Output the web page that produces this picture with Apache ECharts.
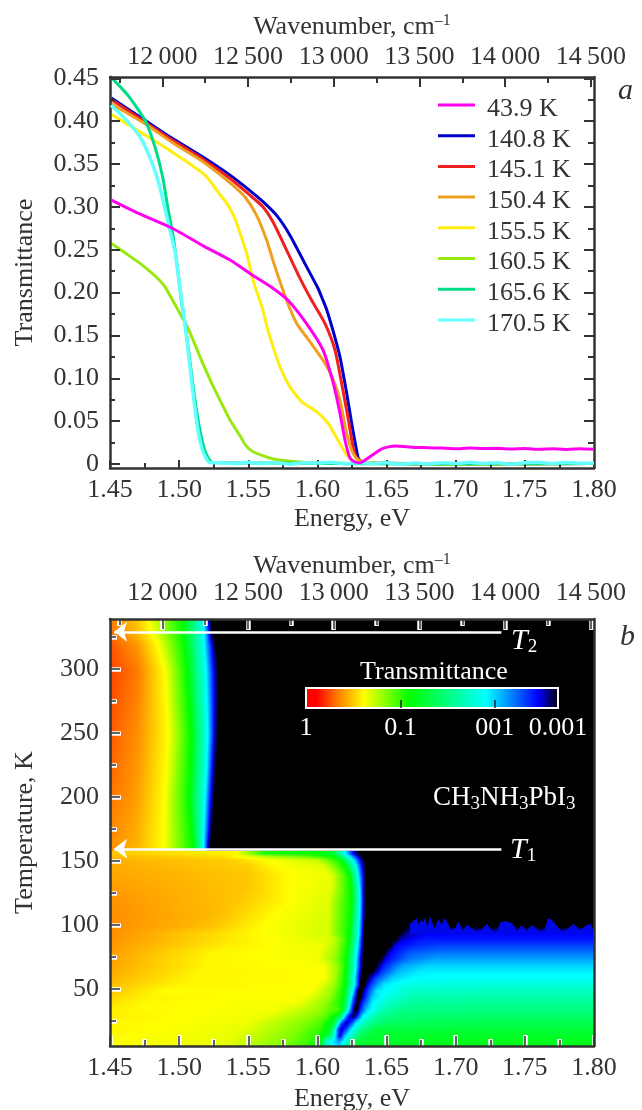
<!DOCTYPE html>
<html><head><meta charset="utf-8">
<style>html,body{margin:0;padding:0;background:#fff}#c{width:642px;height:1110px}</style>
<script src="https://cdn.jsdelivr.net/npm/echarts@6/dist/echarts.min.js"></script>
</head><body><div id="c"></div>
<script>
const legendLabels = ['43.9 K','140.8 K','145.1 K','150.4 K','155.5 K','160.5 K','165.6 K','170.5 K'];
const lineColors = ['#ff00ee','#0000cc','#f02020','#f0a020','#ffee10','#99e810','#00dd88','#66ffff'];
const energyTicks = [1.45,1.50,1.55,1.60,1.65,1.70,1.75,1.80];
const energyMinor = [1.475,1.525,1.575,1.625,1.675,1.725,1.775];
const waveTicks = [12000,12500,13000,13500,14000,14500];
const waveMinor = [11750,12250,12750,13250,13750,14250];
const transTicks = [0,0.05,0.10,0.15,0.20,0.25,0.30,0.35,0.40,0.45];
const transMinor = [0.025,0.075,0.125,0.175,0.225,0.275,0.325,0.375,0.425];
const tempTicks = [50,100,150,200,250,300];
const tempMinor = [25,75,125,175,225,275,325];

const curve439 = [[1.451,.3078],[1.4702,.2926],[1.495,.275],[1.5187,.2533],[1.5368,.238],[1.5534,.220],[1.5678,.205],[1.5787,.191],[1.592,.164],[1.604,.133],[1.6115,.094],[1.6163,.059],[1.6199,.028],[1.6235,.007],[1.6271,.0023],[1.6308,.0015],[1.638,.0085],[1.647,.018],[1.656,.021],[1.662,.0205],[1.668,.0195],[1.68,.019],[1.69,.0185],[1.70,.0178],[1.71,.0185],[1.72,.018],[1.73,.0182],[1.74,.0176],[1.75,.018],[1.76,.0172],[1.77,.0178],[1.78,.017],[1.79,.0178],[1.80,.0172]];
const curve1408 = [[1.451,.427],[1.4753,.401],[1.495,.380],[1.5163,.359],[1.5368,.337],[1.5512,.319],[1.5606,.306],[1.5705,.290],[1.5801,.267],[1.5922,.230],[1.6004,.205],[1.604,.191],[1.6067,.18],[1.6112,.156],[1.6163,.125],[1.6211,.083],[1.6247,.048],[1.6283,.016],[1.63,.005],[1.634,.002],[1.64,.001],[1.70,0],[1.80,.0005]];
const curve1451 = [[1.451,.425],[1.4753,.399],[1.495,.378],[1.516,.357],[1.5368,.333],[1.5512,.3136],[1.5606,.300],[1.5678,.2826],[1.5777,.2495],[1.5874,.2166],[1.5958,.191],[1.6054,.164],[1.6127,.133],[1.6175,.094],[1.622,.055],[1.6257,.02],[1.6279,.0085],[1.632,.003],[1.64,.001],[1.70,0],[1.80,.0005]];
const curve1504 = [[1.451,.42],[1.4753,.397],[1.495,.375],[1.516,.354],[1.5368,.328],[1.5476,.3115],[1.556,.29],[1.5633,.261],[1.5693,.23],[1.5777,.191],[1.585,.164],[1.5946,.1426],[1.6054,.1175],[1.6115,.098],[1.6163,.0746],[1.6211,.036],[1.6257,.0125],[1.63,.004],[1.64,.001],[1.70,0],[1.80,.0005]];
const curve1555 = [[1.451,.4077],[1.4702,.389],[1.495,.364],[1.5188,.337],[1.528,.3175],[1.5353,.302],[1.5404,.2865],[1.5425,.2766],[1.5488,.246],[1.5534,.2145],[1.5606,.1795],[1.5642,.156],[1.5729,.1134],[1.5801,.09],[1.5886,.0726],[1.5994,.061],[1.6076,.0478],[1.6148,.028],[1.6211,.0105],[1.6257,.004],[1.63,.002],[1.64,.001],[1.70,0],[1.80,.0005]];
const curve1605 = [[1.451,.2573],[1.4702,.2358],[1.4765,.228],[1.4838,.2175],[1.4898,.2067],[1.4992,.1795],[1.5064,.1585],[1.5151,.125],[1.5235,.0944],[1.5331,.063],[1.5368,.0513],[1.5404,.042],[1.544,.033],[1.548,.022],[1.5534,.0143],[1.5678,.0058],[1.585,.0027],[1.604,.001],[1.64,.0005],[1.70,0],[1.80,.0005]];
const curve1656 = [[1.45,.4525],[1.463,.430],[1.4753,.401],[1.4825,.370],[1.4883,.333],[1.4919,.298],[1.4955,.267],[1.4992,.224],[1.5018,.1875],[1.5042,.164],[1.507,.13],[1.511,.08],[1.515,.04],[1.519,.014],[1.524,.002],[1.56,.001],[1.70,0],[1.80,.0005]];
const curve1705 = [[1.4507,.4185],[1.4608,.403],[1.4717,.3815],[1.4801,.3525],[1.4862,.322],[1.4919,.2825],[1.497,.2475],[1.499,.224],[1.5035,.172],[1.5064,.133],[1.51,.083],[1.5136,.0396],[1.5172,.0143],[1.5223,.0015],[1.53,.0015],[1.54,.0005],[1.55,.002],[1.56,.0005],[1.57,.0015],[1.58,-.0002],[1.59,.0015],[1.60,.001],[1.61,.002],[1.62,.0002],[1.63,.0015],[1.64,.0005],[1.65,.0015],[1.66,-.0003],[1.67,.001],[1.68,.0002],[1.69,.0015],[1.70,.0005],[1.71,.002],[1.72,.0005],[1.73,.0015],[1.74,-.0002],[1.75,.0015],[1.76,.002],[1.77,.0005],[1.78,.0018],[1.79,.0008],[1.80,.0012]];
const curves = [curve439,curve1408,curve1451,curve1504,curve1555,curve1605,curve1656,curve1705];
const curveOrder = [1,2,3,4,5,6,7,0];

/* Colour scale: log10(transmittance) at each colour of the bar */
const scaleLevels = [0,-0.12,-0.35,-0.62,-1.1,-1.9,-2.45,-2.67];
const scaleColors = [[255,0,0],[255,0,0],[255,128,0],[255,255,0],[0,255,0],[0,255,255],[0,0,255],[0,0,0]];

/* Map rows: temperature (K) and [energy (eV), log10 transmittance] read across the picture.
   Only these rows are data; the drawing shades smoothly between neighbouring rows. */
const heatTemps = [5,10,15,20,25,30,35,40,45,50,55,60,65,70,75,80,85,90,95,100,110,120,130,140,148,152,155,157,160,165,175,200,225,250,275,300,320,330,339];
const heatBreak = 159.5;
const heatRows = [
[[1.45,-.62],[1.53,-.66],[1.5717,-.85],[1.591,-1],[1.6018,-1.1],[1.609,-1.75],[1.6163,-1.95],[1.621,-1.5],[1.626,-1.2],[1.68,-1.15]],
[[1.45,-.62],[1.535,-.66],[1.575,-.85],[1.595,-1],[1.6018,-1.1],[1.6066,-1.8],[1.6114,-1.95],[1.615,-2.1],[1.6187,-1.9],[1.6235,-1.5],[1.6295,-1.25],[1.7,-1.18]],
[[1.45,-.61],[1.54,-.66],[1.58,-.85],[1.597,-1],[1.6018,-1.05],[1.609,-1.4],[1.6126,-1.9],[1.6163,-2.5],[1.62,-2],[1.6235,-1.8],[1.6307,-1.4],[1.638,-1.25],[1.7,-1.22]],
[[1.45,-.6],[1.545,-.66],[1.585,-.85],[1.6018,-1],[1.609,-1.2],[1.6126,-1.7],[1.615,-2.3],[1.6175,-2.55],[1.621,-2.3],[1.6247,-1.9],[1.633,-1.5],[1.6428,-1.3],[1.7,-1.28]],
[[1.45,-.6],[1.55,-.65],[1.59,-.85],[1.6018,-.95],[1.6114,-1.2],[1.615,-1.8],[1.6175,-2.3],[1.621,-2.55],[1.6247,-2.3],[1.6283,-1.9],[1.638,-1.55],[1.65,-1.4],[1.7,-1.35]],
[[1.45,-.59],[1.56,-.65],[1.595,-.82],[1.605,-.92],[1.615,-1.2],[1.6187,-1.8],[1.6223,-2.4],[1.626,-2.65],[1.6295,-2.3],[1.633,-1.9],[1.6428,-1.6],[1.657,-1.45],[1.72,-1.42]],
[[1.45,-.58],[1.47,-.61],[1.57,-.64],[1.6,-.8],[1.6163,-1],[1.621,-1.6],[1.624,-2.2],[1.627,-2.67],[1.6288,-2.67],[1.6307,-2.4],[1.6355,-2],[1.6476,-1.65],[1.662,-1.52],[1.72,-1.5]],
[[1.45,-.56],[1.475,-.61],[1.585,-.64],[1.605,-.82],[1.618,-1.1],[1.623,-1.8],[1.626,-2.4],[1.6285,-2.67],[1.6295,-2.67],[1.633,-2.3],[1.64,-1.9],[1.6524,-1.7],[1.667,-1.58],[1.72,-1.56]],
[[1.45,-.53],[1.48,-.6],[1.59,-.63],[1.608,-.8],[1.6185,-1.1],[1.6245,-1.9],[1.6272,-2.4],[1.629,-2.67],[1.6315,-2.67],[1.6343,-2.4],[1.64,-2],[1.6524,-1.8],[1.667,-1.65],[1.72,-1.63]],
[[1.45,-.5],[1.49,-.62],[1.596,-.62],[1.61,-.8],[1.619,-1.1],[1.6257,-1.9],[1.6283,-2.45],[1.6298,-2.67],[1.632,-2.67],[1.636,-2.35],[1.6428,-1.95],[1.6548,-1.85],[1.669,-1.72],[1.72,-1.7]],
[[1.45,-.48],[1.5,-.6],[1.6,-.62],[1.612,-.8],[1.62,-1.1],[1.627,-1.9],[1.63,-2.45],[1.631,-2.67],[1.634,-2.67],[1.639,-2.3],[1.648,-1.95],[1.665,-1.82],[1.72,-1.8]],
[[1.45,-.46],[1.51,-.6],[1.605,-.62],[1.613,-.8],[1.62,-1.1],[1.627,-1.9],[1.63,-2.45],[1.632,-2.67],[1.636,-2.67],[1.642,-2.3],[1.654,-2],[1.67,-1.9],[1.72,-1.87]],
[[1.45,-.44],[1.515,-.6],[1.605,-.62],[1.614,-.8],[1.6205,-1.1],[1.6275,-1.9],[1.6305,-2.45],[1.6325,-2.67],[1.64,-2.67],[1.646,-2.35],[1.658,-2.05],[1.675,-1.93]],
[[1.45,-.43],[1.52,-.6],[1.605,-.63],[1.615,-.85],[1.6208,-1.1],[1.6278,-1.9],[1.631,-2.45],[1.633,-2.67],[1.643,-2.67],[1.648,-2.4],[1.662,-2.1],[1.68,-2]],
[[1.45,-.42],[1.52,-.6],[1.6,-.64],[1.612,-.8],[1.621,-1.1],[1.628,-1.9],[1.631,-2.45],[1.633,-2.67],[1.646,-2.67],[1.65,-2.45],[1.666,-2.2],[1.685,-2.1]],
[[1.45,-.41],[1.5235,-.6],[1.602,-.65],[1.613,-.8],[1.6215,-1.1],[1.6285,-1.9],[1.6315,-2.45],[1.6335,-2.67],[1.649,-2.67],[1.653,-2.45],[1.668,-2.25],[1.69,-2.2]],
[[1.45,-.4],[1.53,-.58],[1.605,-.66],[1.614,-.8],[1.622,-1.1],[1.629,-1.9],[1.632,-2.45],[1.634,-2.67],[1.653,-2.67],[1.656,-2.45],[1.672,-2.35],[1.69,-2.3]],
[[1.45,-.39],[1.54,-.58],[1.608,-.68],[1.615,-.8],[1.623,-1.1],[1.6295,-1.9],[1.632,-2.45],[1.634,-2.67],[1.657,-2.67],[1.66,-2.5],[1.675,-2.4]],
[[1.45,-.38],[1.55,-.6],[1.608,-.7],[1.623,-1.1],[1.63,-1.9],[1.6325,-2.45],[1.634,-2.67],[1.661,-2.67],[1.664,-2.55],[1.68,-2.45]],
[[1.45,-.38],[1.5187,-.48],[1.562,-.62],[1.608,-.7],[1.6235,-1.1],[1.63,-1.9],[1.6327,-2.45],[1.634,-2.67]],
[[1.45,-.38],[1.53,-.48],[1.57,-.62],[1.608,-.69],[1.624,-1.1],[1.6305,-1.9],[1.633,-2.45],[1.635,-2.67]],
[[1.45,-.39],[1.5428,-.5],[1.581,-.62],[1.608,-.68],[1.6247,-1.1],[1.6308,-1.9],[1.633,-2.45],[1.635,-2.67]],
[[1.45,-.41],[1.55,-.5],[1.58,-.62],[1.61,-.67],[1.6245,-1.1],[1.6305,-1.9],[1.633,-2.45],[1.635,-2.67]],
[[1.45,-.43],[1.55,-.5],[1.581,-.62],[1.61,-.65],[1.6235,-1.1],[1.6295,-1.9],[1.633,-2.45],[1.635,-2.67]],
[[1.45,-.44],[1.55,-.52],[1.57,-.62],[1.605,-.68],[1.62,-1.1],[1.628,-1.9],[1.632,-2.45],[1.635,-2.67]],
[[1.45,-.45],[1.54,-.52],[1.565,-.62],[1.6,-.72],[1.617,-1.1],[1.626,-1.9],[1.631,-2.45],[1.634,-2.67]],
[[1.45,-.47],[1.53,-.55],[1.56,-.72],[1.59,-.9],[1.612,-1.1],[1.623,-1.9],[1.629,-2.45],[1.632,-2.67]],
[[1.45,-.5],[1.54,-.6],[1.562,-1.05],[1.6006,-1.1],[1.612,-1.3],[1.62,-1.9],[1.626,-2.45],[1.63,-2.67]],
[[1.45,-.39],[1.47,-.47],[1.489,-.62],[1.51,-1.1],[1.5177,-1.9],[1.5207,-2.45],[1.5223,-2.67]],
[[1.45,-.38],[1.47,-.46],[1.489,-.62],[1.51,-1.1],[1.5177,-1.9],[1.5207,-2.45],[1.5223,-2.67]],
[[1.45,-.36],[1.47,-.45],[1.489,-.62],[1.509,-1.1],[1.518,-1.9],[1.5215,-2.45],[1.5235,-2.67]],
[[1.45,-.33],[1.47,-.42],[1.4895,-.62],[1.507,-1.1],[1.5187,-1.9],[1.5228,-2.45],[1.5252,-2.67]],
[[1.45,-.3],[1.47,-.4],[1.491,-.62],[1.508,-1.1],[1.52,-1.9],[1.524,-2.45],[1.5265,-2.67]],
[[1.45,-.28],[1.47,-.38],[1.4924,-.62],[1.5086,-1.1],[1.5207,-1.9],[1.5252,-2.45],[1.5276,-2.67]],
[[1.45,-.26],[1.47,-.36],[1.491,-.62],[1.507,-1.1],[1.52,-1.9],[1.5255,-2.45],[1.528,-2.67]],
[[1.45,-.24],[1.47,-.34],[1.4898,-.62],[1.5057,-1.1],[1.5194,-1.9],[1.5252,-2.45],[1.528,-2.67]],
[[1.45,-.27],[1.47,-.4],[1.485,-.62],[1.504,-1.1],[1.5183,-1.9],[1.5237,-2.45],[1.526,-2.67]],
[[1.45,-.31],[1.47,-.48],[1.48,-.62],[1.503,-1.1],[1.518,-1.9],[1.522,-2.45],[1.524,-2.67]],
[[1.45,-.35],[1.47,-.5],[1.478,-.62],[1.503,-1.1],[1.518,-1.9],[1.521,-2.45],[1.523,-2.67]]
];
/* Frayed top of the blue plateau above 1.66 eV */
const fringeEnergy = [1.6669,1.6695,1.6717,1.6735,1.6747,1.6763,1.678,1.6795,1.6813,1.6849,1.6874,1.6898,1.6915,1.6935,1.6965,1.7,1.7017,1.7056,1.7077,1.7098,1.7142,1.7185,1.7224,1.7265,1.7297,1.7322,1.7364,1.741,1.7448,1.7475,1.7515,1.7549,1.7565,1.7602,1.764,1.7667,1.7695,1.7725,1.7765,1.78];
const fringeTemp = [101,103,105,100,104,102,106,98,107,97,105,100,105,103,96,98,103,95,100,99,95,96,101,95,94,102,103,101,95,100,95,100,99,95,95,105,104,100,95,96];
const fringeEnd = [[1.785,101],[1.79,96],[1.795,100],[1.798,101]];

const sans = 'Liberation Serif, Times New Roman, serif';
const ink = '#333';
const FS = 26;
const ax = {x:[], y:[]};
function addAxis(kind, o){ ax[kind].push(o); return ax[kind].length-1; }
function hidden(kind, grid, pos, min, max, vals, len, width, color, z){
  return addAxis(kind, {type:'value', gridIndex:grid, position:pos, min, max, z, silent:true,
    splitLine:{show:false}, axisLine:{show:false,onZero:false}, axisLabel:{show:false},
    axisTick:{show:true,inside:true,length:len,customValues:vals,lineStyle:{color,width,cap:'butt'}}});
}
function labelled(kind, grid, pos, min, max, vals, fmt, name, extra, tick){
  return addAxis(kind, Object.assign({type:'value', gridIndex:grid, position:pos, min, max, z:9, silent:true,
    name, nameLocation:'middle',
    nameTextStyle:{fontFamily:sans,fontSize:FS,color:ink,rich:{sup:{fontFamily:sans,fontSize:16,color:ink,padding:[0,0,13,0]}}},
    splitLine:{show:false}, axisLine:{show:true,onZero:false,lineStyle:{color:ink,width:2.5}},
    axisLabel:{show:true,customValues:vals,formatter:fmt,fontFamily:sans,fontSize:FS,color:ink},
    axisTick:tick}, extra));
}
const fe = v=>v.toFixed(2);
const fw = v=>{const s=String(v);return s.slice(0,2)+'\u2009'+s.slice(2);};
const ft = v=>v===0?'0':v.toFixed(2);
const EN=[1.45,1.80], WN=[11695,14518], TA=[-0.0047,0.4515], TB=[5.4,339];
const darkTick = (vals,len)=>({show:true,inside:true,length:len,customValues:vals,lineStyle:{color:ink,width:2}});
const noTick = {show:false};

/* panel a */
const xA = labelled('x',0,'bottom',EN[0],EN[1],energyTicks,fe,'Energy, eV',{nameGap:38,axisLabel:{show:true,customValues:energyTicks,formatter:fe,margin:9,fontFamily:sans,fontSize:FS,color:ink}},darkTick(energyTicks,8));
hidden('x',0,'bottom',EN[0],EN[1],energyMinor,5,2,ink,9);
labelled('x',0,'top',WN[0],WN[1],waveTicks,fw,'Wavenumber, cm{sup|\u20131}',{nameGap:35,axisLabel:{show:true,customValues:waveTicks,formatter:fw,margin:7,fontFamily:sans,fontSize:FS,color:ink}},darkTick(waveTicks,10));
hidden('x',0,'top',WN[0],WN[1],waveMinor,6,2,ink,9);
const yA = labelled('y',0,'left',TA[0],TA[1],transTicks,ft,'Transmittance',{nameGap:72,axisLabel:{show:true,customValues:transTicks,formatter:ft,margin:11,fontFamily:sans,fontSize:FS,color:ink}},darkTick(transTicks,10));
hidden('y',0,'left',TA[0],TA[1],transMinor,5,2,ink,9);
labelled('y',0,'right',TA[0],TA[1],[],ft,'',{axisLabel:{show:false}},darkTick(transTicks,10));
hidden('y',0,'right',TA[0],TA[1],transMinor,6,2,ink,9);

/* panel b */
const xB = labelled('x',1,'bottom',EN[0],EN[1],energyTicks,fe,'Energy, eV',{nameGap:40,axisLabel:{show:true,customValues:energyTicks,formatter:fe,margin:9,fontFamily:sans,fontSize:FS,color:ink}},noTick);
labelled('x',1,'top',WN[0],WN[1],waveTicks,fw,'Wavenumber, cm{sup|\u20131}',{nameGap:38,axisLabel:{show:true,customValues:waveTicks,formatter:fw,margin:13,fontFamily:sans,fontSize:FS,color:ink}},noTick);
const yB = labelled('y',1,'left',TB[0],TB[1],tempTicks,v=>String(v),'Temperature, K',{nameGap:72,axisLabel:{show:true,customValues:tempTicks,formatter:v=>String(v),margin:11,fontFamily:sans,fontSize:FS,color:ink}},noTick);
labelled('y',1,'right',TB[0],TB[1],[],ft,'',{axisLabel:{show:false}},noTick);
[['x','bottom',EN,energyTicks,energyMinor,10,6],['x','top',WN,waveTicks,waveMinor,10,6],['y','left',TB,tempTicks,tempMinor,10,6]].forEach(([k,p,r,maj,min,l1,l2])=>{
  hidden(k,1,p,r[0],r[1],maj,l1+1,4.5,'#fff',7);
  hidden(k,1,p,r[0],r[1],min,l2+1,4.5,'#fff',7);
  hidden(k,1,p,r[0],r[1],maj,l1,1.5,ink,8);
  hidden(k,1,p,r[0],r[1],min,l2,1.5,ink,8);
});

/* colour bar */
const xC = addAxis('x',{type:'value',gridIndex:2,position:'bottom',inverse:true,min:-2.67,max:0,z:9,silent:true,
  splitLine:{show:false},axisLine:{show:false,onZero:false},
  axisTick:{show:true,inside:true,length:8,customValues:[-1,-2],lineStyle:{color:'#222',width:1.5}},
  axisLabel:{show:true,margin:7,customValues:[0,-1,-2,-2.67],fontFamily:sans,fontSize:FS,color:'#fff',
    formatter:v=>v===0?'1':v===-1?'0.1':v===-2?'001':'0.001'}});
const yC = addAxis('y',{type:'value',gridIndex:2,min:0,max:1,show:false,splitLine:{show:false}});

function colorAt(L){
  const n=scaleLevels.length;
  if(L>=scaleLevels[0]) return scaleColors[0];
  for(let i=1;i<n;i++){ if(L>=scaleLevels[i]){
    const t=(scaleLevels[i-1]-L)/(scaleLevels[i-1]-scaleLevels[i]);
    return scaleColors[i].map((c,j)=>Math.round(scaleColors[i-1][j]+(c-scaleColors[i-1][j])*t));
  }}
  return scaleColors[n-1];
}
const css=c=>`rgb(${c[0]},${c[1]},${c[2]})`;
function gradient(pts,lo,hi){
  const st=[];
  const push=(p,L)=>st.push({offset:Math.min(1,Math.max(0,(p-lo)/(hi-lo))),color:css(colorAt(L))});
  for(let i=0;i<pts.length;i++){
    push(pts[i][0],pts[i][1]);
    if(i+1<pts.length){
      const [a,la]=pts[i],[b,lb]=pts[i+1];
      scaleLevels.forEach(l=>{ if((l<la&&l>lb)||(l>la&&l<lb)) push(a+(b-a)*(l-la)/(lb-la),l); });
    }
  }
  return st.sort((p,q)=>p.offset-q.offset);
}
function rowFull(i){ const r=heatRows[i], last=r[r.length-1]; return last[0]<EN[1]?r.concat([[EN[1],last[1]]]):r; }
function levelAt(r,e){
  for(let k=1;k<r.length;k++) if(e<=r[k][0]){ return r[k-1][1]+(r[k][1]-r[k-1][1])*(e-r[k-1][0])/(r[k][0]-r[k-1][0]); }
  return r[r.length-1][1];
}
function mixRows(a,b,f){
  const es=[...new Set(a.concat(b).map(p=>p[0]))].sort((p,q)=>p-q);
  return es.map(e=>[e,levelAt(a,e)*(1-f)+levelAt(b,e)*f]);
}
const heatSeries={type:'custom',name:'map',xAxisIndex:xB,yAxisIndex:yB,z:1,silent:true,animation:false,clip:true,
  data:heatTemps.slice(0,-1).map((t,i)=>[EN[0],t,i]),encode:{x:0,y:1},
  renderItem(params,api){
    const i=api.value(2), t0=heatTemps[i], t1=heatTemps[i+1];
    const x0=api.coord([EN[0],t0])[0], x1=api.coord([EN[1],t0])[0];
    const y0=api.coord([EN[0],t0])[1], y1=api.coord([EN[0],t1])[1];
    const ra=rowFull(i), rb=rowFull(i+1);
    const fill=r=>new echarts.graphic.LinearGradient(0,0,1,0,gradient(r,EN[0],EN[1]));
    const kids=[];
    const spans=t0<heatBreak&&t1>heatBreak;
    const n=spans?1:Math.max(1,Math.ceil((y0-y1)/1.5));
    if(spans){
      const ym=api.coord([EN[0],heatBreak])[1];
      kids.push({type:'rect',shape:{x:x0,y:ym,width:x1-x0,height:y0-ym+2},style:{fill:fill(ra)}});
      kids.push({type:'rect',shape:{x:x0,y:y1,width:x1-x0,height:ym-y1+2},style:{fill:fill(rb)}});
    } else {
      for(let s=0;s<n;s++){
        const f=(s+0.5)/n, h=(y0-y1)/n;
        kids.push({type:'rect',shape:{x:x0,y:y0-(s+1)*h,width:x1-x0,height:h+2},style:{fill:fill(mixRows(ra,rb,f))}});
      }
    }
    return {type:'group',children:kids};
  }};
const fringePts=fringeEnergy.map((e,i)=>[e,fringeTemp[i]]).concat(fringeEnd);
const fringeSeries={type:'custom',name:'fringe',xAxisIndex:xB,yAxisIndex:yB,z:2,silent:true,animation:false,
  data:fringePts,encode:{x:0,y:1},
  renderItem(params,api){
    if(params.dataIndex!==0) return null;
    const pts=fringePts.map(p=>api.coord(p));
    pts.unshift(api.coord([fringePts[0][0],93]));
    pts.push(api.coord([EN[1],93]));
    return {type:'polygon',shape:{points:pts},style:{fill:'#0008e8'}};
  }};
const barSeries={type:'custom',name:'bar',xAxisIndex:xC,yAxisIndex:yC,z:3,silent:true,animation:false,clip:false,
  data:[[0,1]],encode:{x:0,y:1},
  renderItem(params,api){
    const a=api.coord([0,1]), b=api.coord([-2.67,0]);
    const st=gradient(scaleLevels.map(l=>[-l,l]),0,2.67);
    return {type:'rect',shape:{x:a[0],y:a[1],width:b[0]-a[0],height:b[1]-a[1]},
      style:{fill:new echarts.graphic.LinearGradient(0,0,1,0,st),stroke:'#fff',lineWidth:2}};
  }};
const arrowEnergy=[1.453,1.733], arrowT1=159.5, arrowT2=329;
const arrowSeries={type:'line',name:'arrows',xAxisIndex:xB,yAxisIndex:yB,z:12,data:[],silent:true,animation:false,
  markLine:{silent:true,animation:false,z:12,symbol:['arrow','none'],symbolSize:[15,13],
    lineStyle:{color:'#fff',width:2.5,type:'solid'},label:{show:false},emphasis:{disabled:true},
    data:[[{coord:[arrowEnergy[0],arrowT2]},{coord:[arrowEnergy[1],arrowT2]}],
          [{coord:[arrowEnergy[0],arrowT1]},{coord:[arrowEnergy[1],arrowT1]}]]}};
const lineSeries=curveOrder.map((k,i)=>({type:'line',name:legendLabels[k],data:curves[k],xAxisIndex:xA,yAxisIndex:yA,
  z:3+i,showSymbol:false,symbol:'none',smooth:0.2,animation:false,silent:true,
  lineStyle:{color:lineColors[k],width:k===7?3.5:3},itemStyle:{color:lineColors[k]}}));

const subRich=(color)=>({
  i:{fontFamily:sans,fontSize:FS+4,fontStyle:'italic',color},
  s:{fontFamily:sans,fontSize:19,color,padding:[13,0,0,0]}
});
const T=(x,y,text,style)=>({type:'text',x,y,z:20,silent:true,style:Object.assign({fontFamily:sans,fontSize:FS,fill:ink,text,align:'left',verticalAlign:'middle'},style)});

echarts.init(document.getElementById('c'),null,{renderer:'canvas'}).setOption({
  animation:false,backgroundColor:'#fff',
  grid:[{left:110,top:77,width:484,height:391,outerBoundsMode:'none'},{left:110,top:619,width:484,height:427,outerBoundsMode:'none'},{left:306,top:688,width:252,height:20,outerBoundsMode:'none'}],
  xAxis:ax.x,yAxis:ax.y,
  legend:{show:true,orient:'vertical',left:433,top:91,icon:'path://M0 0H37V3H0Z M0 11H0.01V11Z',itemWidth:37,itemHeight:11,itemGap:4.7,selectedMode:false,
    data:legendLabels,textStyle:{fontFamily:sans,fontSize:FS,color:ink,padding:[0,0,0,7]}},
  graphic:[
    T(618,91,'a',{fontStyle:'italic',fontSize:FS+4}),
    T(620,637,'b',{fontStyle:'italic',fontSize:FS+4}),
    T(434,672,'Transmittance',{fill:'#fff',align:'center'}),
    T(433,798,'CH{s|3}NH{s|3}PbI{s|3}',{fill:'#fff',fontSize:FS+1,rich:subRich('#fff')}),
    T(511,641,'{i|T}{s|2}',{fill:'#fff',rich:subRich('#fff')}),
    T(510,850,'{i|T}{s|1}',{fill:'#fff',rich:subRich('#fff')})
  ],
  series:[...lineSeries,heatSeries,fringeSeries,barSeries,arrowSeries]
});
</script></body></html>
